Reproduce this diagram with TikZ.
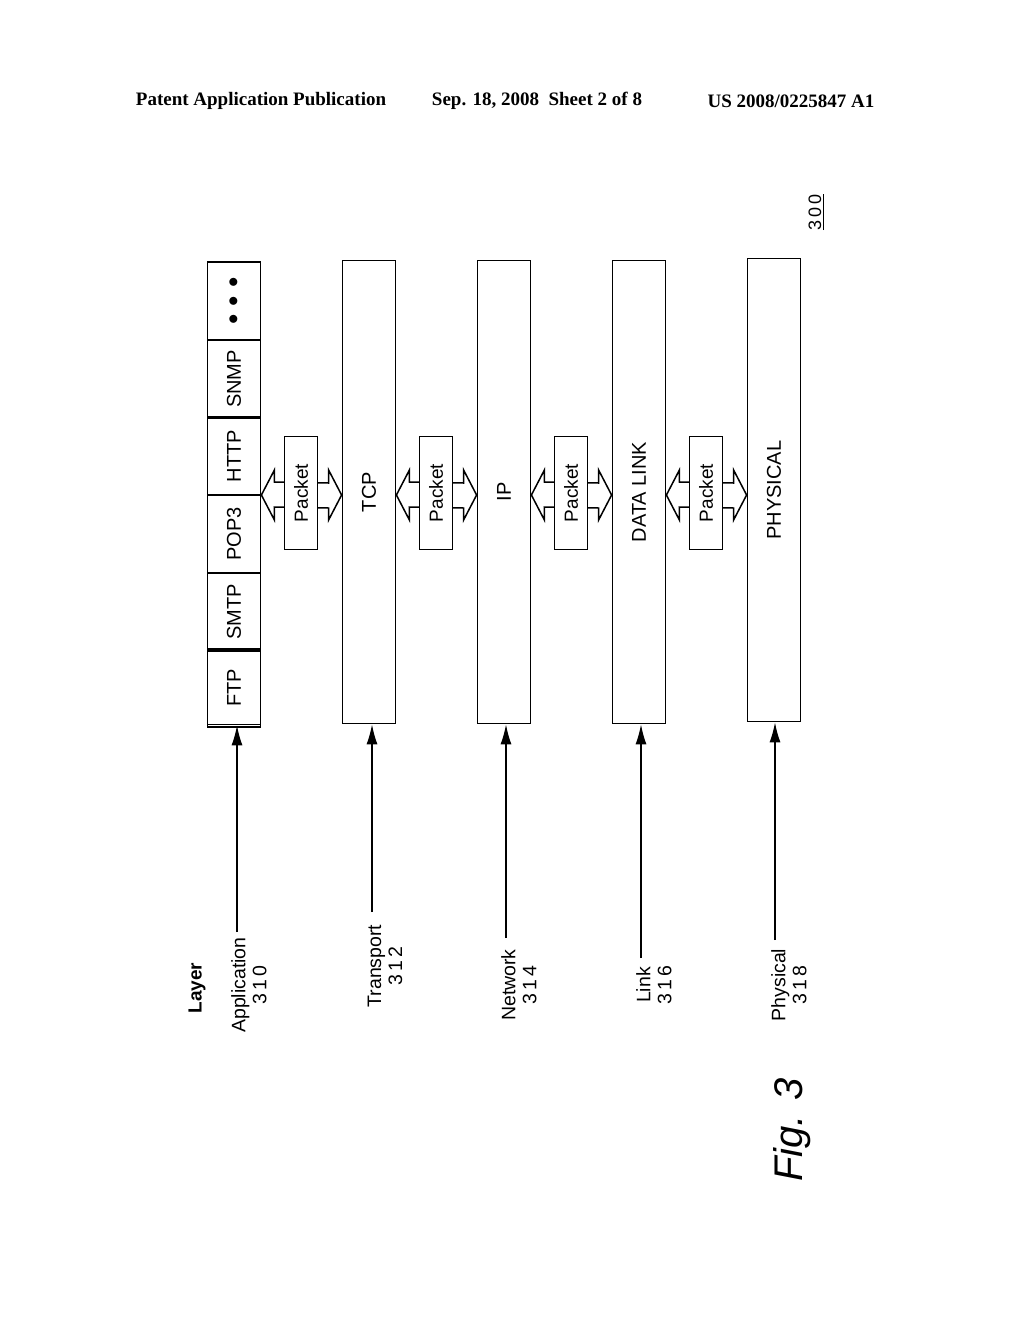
\documentclass[tikz,border=0pt]{standalone}
\usepackage{fontspec}
\setmainfont{Liberation Sans}
\newfontfamily\hdfont{Liberation Serif}
\usetikzlibrary{calc,arrows.meta}

\tikzset{
  col/.style={draw, line width=1.8pt, minimum width=53pt, minimum height=463pt, inner sep=0pt, font=\fontsize{20}{22}\selectfont},
  cell/.style={draw, line width=1.8pt, minimum width=53pt, minimum height=78pt, inner sep=0pt, font=\fontsize{20}{22}\selectfont},
  pkt/.style={draw, line width=1.8pt, fill=white, minimum width=33pt, minimum height=113pt, inner sep=0pt, font=\fontsize{19}{21}\selectfont},
  lbl/.style={rotate=90, align=center, font=\fontsize{19.5}{21}\selectfont, inner sep=1pt},
  lyr/.style={-{Latex[length=20pt,width=11pt]}, line width=1.3pt},
  hd/.style={font=\hdfont\bfseries\fontsize{19}{21}\selectfont}
}
\newcommand{\rot}[1]{\rotatebox{90}{#1}}
\newcommand{\dblarrow}[2]{% hollow double arrow between two column nodes
  \draw[line width=1.5pt, fill=white] (#1.east |- 0,495) -- ++(13,-25) -- ++(0,12)
    -- ($(#2.west |- 0,483)+(-13,0)$) -- ++(0,-13) -- (#2.west |- 0,495)
    -- ++(-13,25) -- ++(0,-12) -- ($(#1.east |- 0,507)+(13,0)$) -- ++(0,13) -- cycle;}

\begin{document}
\begin{tikzpicture}[x=1pt, y=-1pt]
\useasboundingbox (0,0) rectangle (1024,1320);
% header
\node[hd] (hd1) at (261,101) {Patent Application Publication};
\node[hd] (hd2) at (537,101) {Sep. 18, 2008\ \ Sheet 2 of 8};
\node[hd] (hd3) at (791,101) {US 2008/0225847 A1};
% application cells
\foreach \t/\y [count=\i] in {FTP/688, SMTP/612, POP3/534, HTTP/456, SNMP/379, {$\bullet\,\bullet\,\bullet$}/301}
  \node[cell] (app\i) at (234,\y) {\rot{\t}};
\node[col] (app) at (234,493) {};
% columns
\node[col] (tcp) at (369,492) {\rot{TCP}};
\node[col] (ip) at (504,492) {\rot{IP}};
\node[col] (dl) at (639,492) {\rot{DATA LINK}};
\node[col] (phy) at (774,490) {\rot{PHYSICAL}};
% packets
\dblarrow{app}{tcp}
\dblarrow{tcp}{ip}
\dblarrow{ip}{dl}
\dblarrow{dl}{phy}
\node[pkt] (p1) at (301,493) {\rot{Packet}};
\node[pkt] (p2) at (436,493) {\rot{Packet}};
\node[pkt] (p3) at (571,493) {\rot{Packet}};
\node[pkt] (p4) at (706,493) {\rot{Packet}};
% layer labels
\node[lbl, font=\bfseries\fontsize{19}{21}\selectfont] (layer) at (197,988) {Layer};
\node[lbl] (la) at (249,985) {Application\\3\,1\,0};
\node[lbl] (lt) at (385,966) {Transport\\3\,1\,2};
\node[lbl] (ln) at (519,985) {Network\\3\,1\,4};
\node[lbl] (ll) at (654,985) {Link\\3\,1\,6};
\node[lbl] (lp) at (789,985) {Physical\\3\,1\,8};
\coordinate (ea) at (237,932);
\coordinate (et) at (372,912);
\coordinate (en) at (506,938);
\coordinate (el) at (641,958);
\coordinate (ep) at (775,940);
\draw[lyr] (ea) -- (ea |- app.south);
\draw[lyr] (et) -- (et |- tcp.south);
\draw[lyr] (en) -- (en |- ip.south);
\draw[lyr] (el) -- (el |- dl.south);
\draw[lyr] (ep) -- (ep |- phy.south);
% figure number
\node[rotate=90, font=\fontsize{18}{20}\selectfont, inner sep=1pt] (num) at (816,212) {\underline{3\,0\,0}};
\node[rotate=90, font=\itshape\fontsize{40}{44}\selectfont] (fig) at (792,1130) {Fig. 3};
\end{tikzpicture}
\end{document}
